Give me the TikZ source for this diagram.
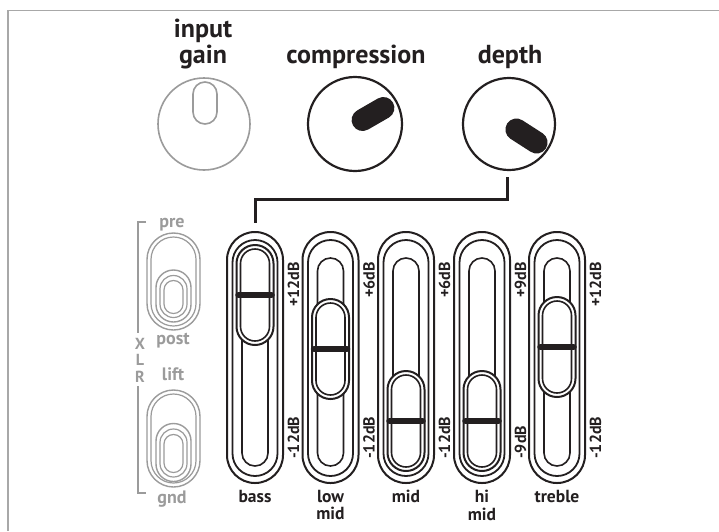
\documentclass[tikz,border=0pt]{standalone}
\usepackage{fontspec}
\setmainfont{PT Sans}
\definecolor{ink}{HTML}{231F20}
\definecolor{sw}{HTML}{9B9B9B}
\definecolor{frame}{HTML}{A8A8A8}
\tikzset{
  x=1pt, y=-1pt,
  stad/.style 2 args={draw, inner sep=0pt, outer sep=0pt, minimum width=#1, minimum height=#2, rounded corners=#1/2-0.05},
  head/.style={font=\fontsize{26}{26}\selectfont\bfseries, text=ink, inner sep=0pt, anchor=base},
  lbl/.style={font=\fontsize{17.5}{17.5}\selectfont\bfseries, text=ink, inner sep=0pt, anchor=north, align=center},
  swl/.style={font=\fontsize{18}{18}\selectfont\bfseries, text=sw, inner sep=0pt, anchor=base},
  xlr/.style={font=\fontsize{16}{16.5}\selectfont\bfseries, text=sw, inner sep=0pt, align=center, anchor=north},
  dbl/.style={rotate=90, font=\fontsize{16}{16}\selectfont\bfseries, text=ink, inner sep=0pt},
  bar/.style={ink, line width=6.5, line cap=round},
  handle/.style={ink, line width=22, line cap=round},
}
\newcommand\eqslider[6]{% name, cx, bar y, top dB, bottom dB, label
  \node[stad={56}{251}, draw=ink, line width=2] (#1) at (#2,357.5) {};
  \node[stad={45}{236}, draw=ink, line width=1.8] (#1r) at (#2,358) {};
  \node[stad={26}{208}, draw=ink, line width=1.6] (#1k) at (#2,362) {};
  \node[stad={37}{100}, draw=ink, line width=2, fill=white] (#1t) at (#2,#3) {};
  \node[stad={29}{92}, draw=ink, line width=1.6] (#1ti) at (#2,#3) {};
  \draw[bar] (#2-16.5,#3) -- (#2+16.5,#3);
  \node[dbl, anchor=east] (#1p) at (#2+38.5,262) {#4};
  \node[dbl, anchor=west] (#1m) at (#2+38.5,459) {#5};
  \node[lbl] (#1a) at (#2,490) {#6};
}
\begin{document}
\begin{tikzpicture}
\useasboundingbox (0,0) rectangle (719,531);
\fill[white] (0,0) rectangle (719,531);
% frame
\draw[frame, line width=1.6] (8,531) -- (8,10.5) -- (719,10.5);

% header labels
\node[head] (tin) at (203,37.5) {input};
\node[head] (tga) at (203,63.5) {gain};
\node[head] (tco) at (356,63) {compression};
\node[head] (tde) at (510,63) {depth};

% knobs
\node[circle, draw=sw, line width=1.6, minimum size=92, inner sep=0pt] (gain) at (204,124) {};
\node[stad={24}{42}, draw=sw, line width=1.6] (gainslot) at (205,103) {};
\node[circle, draw=ink, line width=2.2, minimum size=94, inner sep=0pt] (comp) at (355,124) {};
\draw[handle] (362.6,120) -- (383.4,108);
\node[circle, draw=ink, line width=2.2, minimum size=92, inner sep=0pt] (depth) at (509,124) {};
\draw[handle] (516.4,129.5) -- (536.6,142.5);

% sliders
\eqslider{bass}{255}{295}{+12dB}{-12dB}{bass}
\eqslider{lowmid}{330.5}{349}{+6dB}{-12dB}{low\\mid}
\eqslider{mid}{406}{421}{+6dB}{-12dB}{mid}
\eqslider{himid}{482}{421}{+9dB}{-9dB}{hi\\mid}
\eqslider{treble}{557}{347}{+12dB}{-12dB}{treble}

% connector depth -> bass
\draw[ink, line width=3] ([xshift=-2pt,yshift=-6pt]depth.south) -- ++(0,22) -| ([yshift=9pt]bass.north);

% XLR switches
\node[stad={53}{97}, draw=sw, line width=1.4] (pp) at (173.5,281.5) {};
\node[stad={45}{89}, draw=sw, line width=1.2] (ppi) at (173.5,281.5) {};
\node[stad={35}{52}, draw=sw, line width=1.4] (ppt) at (173.5,296) {};
\node[stad={27}{42}, draw=sw, line width=1.2] (ppt2) at (173.5,296.5) {};
\node[stad={19}{33}, draw=sw, line width=1.2] (ppt3) at (173.5,297) {};

\node[stad={53}{97}, draw=sw, line width=1.4] (lg) at (173.5,438.5) {};
\node[stad={45}{89}, draw=sw, line width=1.2] (lgi) at (173.5,438.5) {};
\node[stad={35}{58}, draw=sw, line width=1.4] (lgt) at (173.5,452.5) {};
\node[stad={27}{48}, draw=sw, line width=1.2] (lgt2) at (173.5,453) {};
\node[stad={19}{38}, draw=sw, line width=1.2] (lgt3) at (173.5,453.5) {};

\draw[sw, line width=1.3] (146,222) -- (138,222) -- (138,333);
\draw[sw, line width=1.3] (138,386) -- (138,493) -- (146,493);

\node[swl] (tpre) at (172,227) {pre};
\node[swl] (tpost) at (173,344) {post};
\node[swl] (tlift) at (173,380) {lift};
\node[swl] (tgnd) at (172,503) {gnd};
\node[xlr] (txlr) at (140,338) {X\\L\\R};
\end{tikzpicture}
\end{document}
